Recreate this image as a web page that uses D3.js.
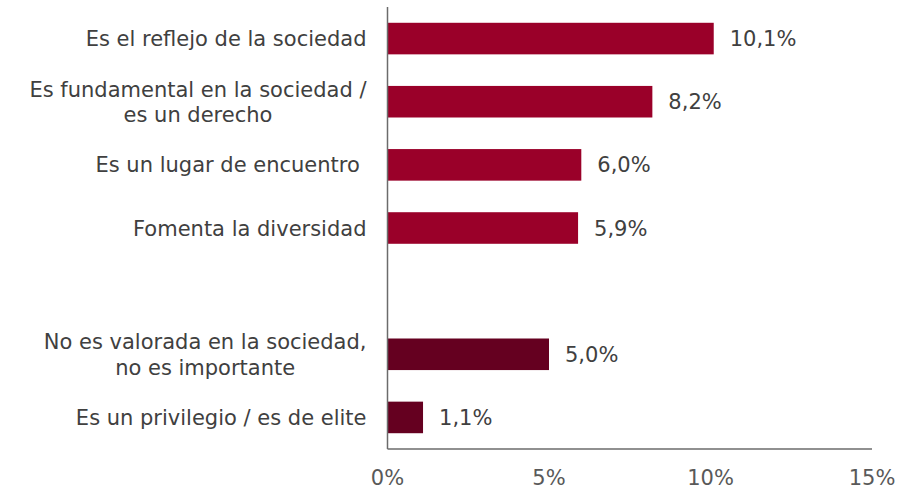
<!DOCTYPE html>
<html>
<head>
<meta charset="utf-8">
<script src="https://cdn.jsdelivr.net/npm/d3@7"></script>
<style>
  body { margin: 0; background: #fff; }
  svg { font-family: "DejaVu Sans", Verdana, sans-serif; }
</style>
</head>
<body>
<div id="chart"></div>
<script>
// categories (a null entry is the empty gap row)
let categories = [
    ["Es el reflejo de la sociedad"],
    ["Es fundamental en la sociedad /", "es un derecho"],
    ["Es un lugar de encuentro\u00a0"],
    ["Fomenta la diversidad"],
    null,
    ["No es valorada en la sociedad,", "no es importante"],
    ["Es un privilegio / es de elite"]
];
let values = [10.1, 8.2, 6.0, 5.9, null, 5.0, 1.1];
let groups = ["pos", "pos", "pos", "pos", null, "neg", "neg"];
let xTicks = [0, 5, 10, 15];

let colors = {pos: "#9A0029", neg: "#650020"};

let w = 919, h = 489;
let margin = {top: 7, right: 47, bottom: 40, left: 387.5},
    width = w - margin.left - margin.right,
    height = h - margin.top - margin.bottom;

let fontSize = 21;

let svg = d3.select("#chart").append("svg")
    .attr("width", w)
    .attr("height", h);

let g = svg.append("g")
    .attr("transform", "translate(" + margin.left + "," + margin.top + ")");

let x = d3.scaleLinear().domain([0, 15]).range([0, width]);
let y = d3.scaleBand()
    .domain(d3.range(categories.length))
    .range([0, height])
    .paddingInner(0.5)
    .paddingOuter(0.25);

let fmt = function(v) { return d3.format(".1f")(v).replace(".", ",") + "%"; };

let rows = d3.range(categories.length).filter(function(i) { return values[i] !== null; });

// bars
g.selectAll("rect.bar")
    .data(rows)
    .enter().append("rect")
    .attr("class", "bar")
    .attr("x", 0)
    .attr("y", function(i) { return y(i); })
    .attr("width", function(i) { return x(values[i]); })
    .attr("height", y.bandwidth())
    .attr("fill", function(i) { return colors[groups[i]]; });

// value labels
g.selectAll("text.val")
    .data(rows)
    .enter().append("text")
    .attr("class", "val")
    .attr("x", function(i) { return x(values[i]) + 16; })
    .attr("y", function(i) { return y(i) + y.bandwidth() / 2; })
    .attr("dy", "0.36em")
    .attr("font-size", fontSize)
    .attr("fill", "#404040")
    .text(function(i) { return fmt(values[i]); });

// category labels: block right-aligned next to the axis, lines centred in it
let lineH = 25.5;
rows.forEach(function(i) {
    let lines = categories[i];
    let cy = y(i) + y.bandwidth() / 2;
    let t = g.append("text")
        .attr("font-size", fontSize)
        .attr("fill", "#404040")
        .attr("text-anchor", "middle");
    let spans = lines.map(function(l, k) {
        return t.append("tspan")
            .attr("y", cy + (k - (lines.length - 1) / 2) * lineH)
            .attr("dy", "0.36em")
            .text(l);
    });
    let wMax = d3.max(spans, function(s) { return s.node().getComputedTextLength(); });
    let center = -21 - wMax / 2;
    spans.forEach(function(s) { s.attr("x", center); });
});

// axes lines
g.append("line")
    .attr("x1", 0).attr("x2", 0)
    .attr("y1", 0).attr("y2", height)
    .attr("stroke", "#6b6b6b").attr("stroke-width", 1.5);

g.append("line")
    .attr("x1", 0).attr("x2", width)
    .attr("y1", height).attr("y2", height)
    .attr("stroke", "#6b6b6b").attr("stroke-width", 1.5);

// x tick labels
g.selectAll("text.tick")
    .data(xTicks)
    .enter().append("text")
    .attr("class", "tick")
    .attr("x", function(d) { return x(d); })
    .attr("y", height + 36)
    .attr("text-anchor", "middle")
    .attr("font-size", fontSize)
    .attr("fill", "#595959")
    .text(function(d) { return d + "%"; });
</script>
</body>
</html>
